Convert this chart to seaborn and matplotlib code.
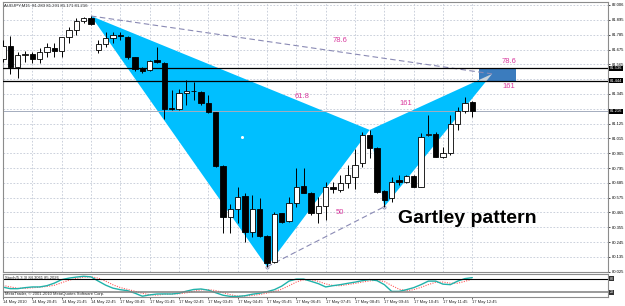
import numpy as np
import pandas as pd
import matplotlib
matplotlib.use("Agg")
import matplotlib.pyplot as plt
import matplotlib.transforms as mtransforms
from matplotlib.patches import Polygon, Rectangle
import seaborn as sns

# ---------------- data ----------------
bars = list(range(-1, 64))
opens = [81.605, 81.701, 81.548, 81.635, 81.640, 81.605, 81.655, 81.684, 81.667, 81.771,
         81.820, 81.889, 81.912, 81.672, 81.714, 81.763, 81.783, 81.766, 81.617, 81.536,
         81.523, 81.598, 81.573, 81.239, 81.231, 81.350, 81.369, 81.358, 81.276, 81.209,
         80.810, 80.429, 80.491, 80.587, 80.322, 80.488, 80.292, 80.095, 80.459, 80.402,
         80.538, 80.662, 80.612, 80.463, 80.513, 80.656, 80.632, 80.686, 80.731, 80.830,
         81.040, 80.942, 80.624, 80.570, 80.706, 80.694, 80.736, 80.656, 81.038, 81.048,
         80.875, 80.904, 81.122, 81.221, 81.283]
highs = [81.746, 81.776, 81.659, 81.667, 81.659, 81.684, 81.722, 81.726, 81.770, 81.845,
         81.907, 81.915, 81.924, 81.746, 81.808, 81.808, 81.808, 81.776, 81.622, 81.548,
         81.598, 81.696, 81.585, 81.375, 81.380, 81.449, 81.436, 81.369, 81.338, 81.213,
         80.818, 80.528, 80.656, 80.607, 80.595, 80.570, 80.298, 80.471, 80.462, 80.582,
         80.793, 80.793, 80.619, 80.582, 80.694, 80.694, 80.743, 80.818, 80.934, 81.065,
         81.078, 80.954, 80.632, 80.731, 80.743, 80.743, 80.743, 81.053, 81.189, 81.065,
         80.954, 81.189, 81.251, 81.325, 81.291]
lows = [81.583, 81.494, 81.464, 81.585, 81.577, 81.577, 81.622, 81.622, 81.622, 81.726,
        81.783, 81.870, 81.857, 81.647, 81.696, 81.726, 81.746, 81.603, 81.516, 81.499,
        81.518, 81.573, 81.159, 81.226, 81.226, 81.263, 81.300, 81.263, 81.202, 80.805,
        80.310, 80.315, 80.384, 80.248, 80.285, 80.285, 80.062, 80.087, 80.384, 80.396,
        80.508, 80.607, 80.446, 80.384, 80.409, 80.607, 80.619, 80.644, 80.637, 80.805,
        80.867, 80.607, 80.508, 80.543, 80.669, 80.682, 80.656, 80.652, 81.033, 80.875,
        80.867, 80.892, 81.078, 81.202, 81.171]
closes = [81.701, 81.548, 81.635, 81.644, 81.605, 81.655, 81.692, 81.667, 81.766, 81.820,
          81.889, 81.907, 81.863, 81.714, 81.763, 81.783, 81.776, 81.622, 81.531, 81.518,
          81.592, 81.580, 81.234, 81.231, 81.350, 81.367, 81.366, 81.276, 81.209, 80.812,
          80.434, 80.488, 80.582, 80.322, 80.488, 80.292, 80.092, 80.451, 80.396, 80.538,
          80.652, 80.612, 80.459, 80.513, 80.656, 80.639, 80.686, 80.743, 80.818, 81.040,
          80.942, 80.619, 80.558, 80.694, 80.694, 80.736, 80.656, 81.023, 81.048, 80.875,
          80.904, 81.122, 81.221, 81.276, 81.216]

stoch_main = [42.8, 36.2, 36.2, 40.6, 43.7, 43.7, 49.3, 60.3, 75.6, 82.2,
              86.6, 90.1, 87.5, 69.1, 51.5, 38.4, 31.8, 27.4, 16.5, 3.4,
              9.0, 13.0, 13.4, 13.0, 16.5, 25.3, 32.7, 34.9, 29.6, 18.7,
              7.7, 2.5, 2.5, 5.5, 12.1, 16.5, 23.1, 31.8, 47.2, 69.1,
              77.8, 77.8, 68.2, 58.1, 43.7, 49.3, 53.7, 59.4, 64.7, 71.2,
              75.6, 71.2, 53.7, 24.4, 24.4, 31.8, 40.6, 53.7, 69.1, 69.1,
              55.9, 53.7, 69.1, 80.0, 84.3]
stoch_signal = [50, 44, 38, 38, 40, 43, 46, 51, 62, 73,
                81, 86, 88, 82, 69, 53, 41, 33, 25, 16,
                10, 8, 12, 13, 14, 18, 25, 31, 32, 28,
                19, 10, 4, 4, 7, 11, 17, 24, 34, 49,
                65, 75, 75, 68, 57, 50, 49, 54, 59, 65,
                70, 73, 67, 50, 34, 27, 32, 42, 54, 64,
                65, 60, 60, 68, 78]

time_tick_bars = [-1, 3, 7, 11, 15, 19, 23, 27, 31, 35, 39, 43, 47, 51, 55, 59, 63]
time_tick_labels = ["14 May 2010", "14 May 20:45", "14 May 21:45", "14 May 22:45",
                    "17 May 00:45", "17 May 01:45", "17 May 02:45", "17 May 03:45",
                    "17 May 04:45", "17 May 05:45", "17 May 06:45", "17 May 07:45",
                    "17 May 08:45", "17 May 09:45", "17 May 10:45", "17 May 11:45",
                    "17 May 12:45"]

price_ticks = [82.006, 81.895, 81.785, 81.675, 81.565, 81.455, 81.345, 81.235, 81.125,
               81.015, 80.905, 80.795, 80.685, 80.575, 80.465, 80.355, 80.245, 80.135, 80.025]

level_lines = [81.536, 81.444]
bid_price = 81.216

# Gartley points X, A, B, C, D
pattern_bars = [11, 35, 49, 51, 65.7]
pattern_prices = [81.924, 80.062, 81.078, 80.508, 81.494]
zone_bars = [63.95, 69.0]

fib_labels = ["78.6", "61.8", "161", "78.6", "161", "50"]
fib_bars = [44.9, 39.8, 53.9, 68.0, 68.0, 45.0]
fib_prices = [81.741, 81.325, 81.271, 81.585, 81.404, 80.468]

title_text = "AUDJPY,M15  81.283 81.291 81.171 81.216"
stoch_title = "Stoch(5,3,3) 84.3061 85.2026"
copyright_text = "MetaTrader, \u00a9 2001-2010 MetaQuotes Software Corp."

# ---------------- style ----------------
sns.set_style("white")
plt.rcParams["font.family"] = ["Liberation Sans", "DejaVu Sans"]

W, H = 625, 306
fig = plt.figure(figsize=(W / 100, H / 100), dpi=100)
fig.patch.set_facecolor("white")
ax = fig.add_axes([3 / W, (H - 272) / H, 605 / W, 270 / H])
ax2 = fig.add_axes([3 / W, (H - 297) / H, 605 / W, 23 / H], sharex=ax)

df = pd.DataFrame({"bar": bars, "open": opens, "high": highs, "low": lows, "close": closes})
df["up"] = df["close"] >= df["open"]
df["bottom"] = df[["open", "close"]].min(axis=1)
df["height"] = (df["close"] - df["open"]).abs().clip(lower=0.002)

grid_kw = dict(color="#c3c9d6", ls=(0, (2, 2)), lw=0.6)

# pattern triangles
X, A, B, C, D = list(zip(pattern_bars, pattern_prices))
cyan = "#00BFFF"
ax.add_patch(Polygon([X, A, B], closed=True, fc=cyan, ec="none", zorder=1))
ax.add_patch(Polygon([B, C, D], closed=True, fc=cyan, ec="none", zorder=1))

# target zone
zone = Rectangle((zone_bars[0], level_lines[1]), zone_bars[1] - zone_bars[0],
                 level_lines[0] - level_lines[1], fc="#3b7cbe", ec="none", zorder=2)
ax.add_patch(zone)
wedge = Polygon([B, C, D], closed=True, fc="#c9d3dc", ec="none", zorder=2.1)
ax.add_patch(wedge)
wedge.set_clip_path(Rectangle((zone_bars[0], level_lines[1]), zone_bars[1] - zone_bars[0],
                              level_lines[0] - level_lines[1], transform=ax.transData))

# dashed fib lines
ax.plot([X[0], D[0]], [X[1], D[1]], color="#8a8ab4", lw=0.8, ls=(0, (5, 3)), zorder=2.5)
ax.plot([A[0], C[0]], [A[1], C[1]], color="#8a8ab4", lw=0.8, ls=(0, (5, 3)), zorder=2.5,
        marker="o", ms=2.2, mfc="white", mec="#8a8ab4", mew=0.6)

# horizontal lines
for lv in level_lines:
    ax.axhline(lv, color="black", lw=0.9, zorder=2.6)
ax.axhline(bid_price, color="#a4acbd", lw=0.7, zorder=1.5)

# candles
ax.vlines(df["bar"], df["low"], df["high"], color="black", lw=0.7, zorder=3)
ax.bar(df["bar"], df["height"], bottom=df["bottom"], width=0.72,
       color=np.where(df["up"], "white", "black"), edgecolor="black", lw=0.6, zorder=4)

# small white dot inside triangle
ax.plot([31.6], [81.026], marker="o", ms=1.2, color="white", zorder=4)

# fib labels
for t, bx, py in zip(fib_labels, fib_bars, fib_prices):
    ax.text(bx, py, t, color="#d93a9e", fontsize=5.5, ha="center", va="center", zorder=5)

ax.text(52.8, 80.390, "Gartley pattern", fontsize=14, fontweight="bold", color="black",
        ha="left", va="baseline", zorder=5)

# axes formatting main
ax.set_xlim(-0.816, 81.5)
ax.set_ylim(80.023, 82.028)
ax.set_xticks(list(range(-1, 82, 2)))
ax.tick_params(axis="x", labelbottom=False, bottom=False, length=0)
ax.yaxis.tick_right()
ax.set_yticks(price_ticks)
box_values = level_lines + [bid_price]
tick_text = []
for v in price_ticks:
    covered = any(abs(v - b) < 0.025 for b in box_values)
    tick_text.append("" if covered else f"{v:.3f}")
ax.set_yticklabels(tick_text)
ax.tick_params(axis="y", labelsize=3, length=1.5, width=0.5, pad=1, colors="black")
ax.grid(True, **grid_kw)
ax.set_axisbelow(True)
for s in ax.spines.values():
    s.set_color("#8c8c8c")
    s.set_linewidth(0.8)

trans = mtransforms.blended_transform_factory(ax.transAxes, ax.transData)
for lv in box_values:
    ax.text(1.003, lv, f"{lv:.3f}", transform=trans, fontsize=3, color="white",
            ha="left", va="center", bbox=dict(fc="black", ec="none", pad=0.5), zorder=6,
            clip_on=False)

fig.text(4 / W, 1 - 5.5 / H, title_text, fontsize=3.1, ha="left", va="center")

# stochastic sub panel
sdf = pd.DataFrame({"bar": bars, "main": stoch_main, "signal": stoch_signal})
sns.lineplot(data=sdf, x="bar", y="signal", ax=ax2, color="#ff5c5c", lw=0.8,
             linestyle=(0, (1, 1.2)))
sns.lineplot(data=sdf, x="bar", y="main", ax=ax2, color="#20B2AA", lw=1.0)
ax2.axhline(80, color="black", lw=0.8)
ax2.axhline(20, color="#7f7f7f", lw=1.1)
ax2.set_ylim(0, 100)
ax2.set_xlim(-0.816, 81.5)
ax2.set_ylabel("")
ax2.set_xlabel("")
ax2.set_yticks([])
ax2.grid(False)
ax2.set_xticks(time_tick_bars)
ax2.set_xticklabels(time_tick_labels, ha="left")
ax2.tick_params(axis="x", labelsize=3, length=1.5, width=0.5, pad=0.8, bottom=True)
for s in ax2.spines.values():
    s.set_color("#8c8c8c")
    s.set_linewidth(0.8)
ax2.text(2 / 605, 0.84, stoch_title, transform=ax2.transAxes, fontsize=3, ha="left", va="center")
ax2.text(2 / 605, 0.13, copyright_text, transform=ax2.transAxes, fontsize=3, ha="left", va="center")
trans2 = mtransforms.blended_transform_factory(ax2.transAxes, ax2.transData)
for lv in [80, 20]:
    ax2.text(1.003, lv, f"{lv}", transform=trans2, fontsize=2.6, color="white",
             ha="left", va="center", bbox=dict(fc="#333333", ec="none", pad=0.4), clip_on=False)

fig.savefig("out.png", dpi=100)
